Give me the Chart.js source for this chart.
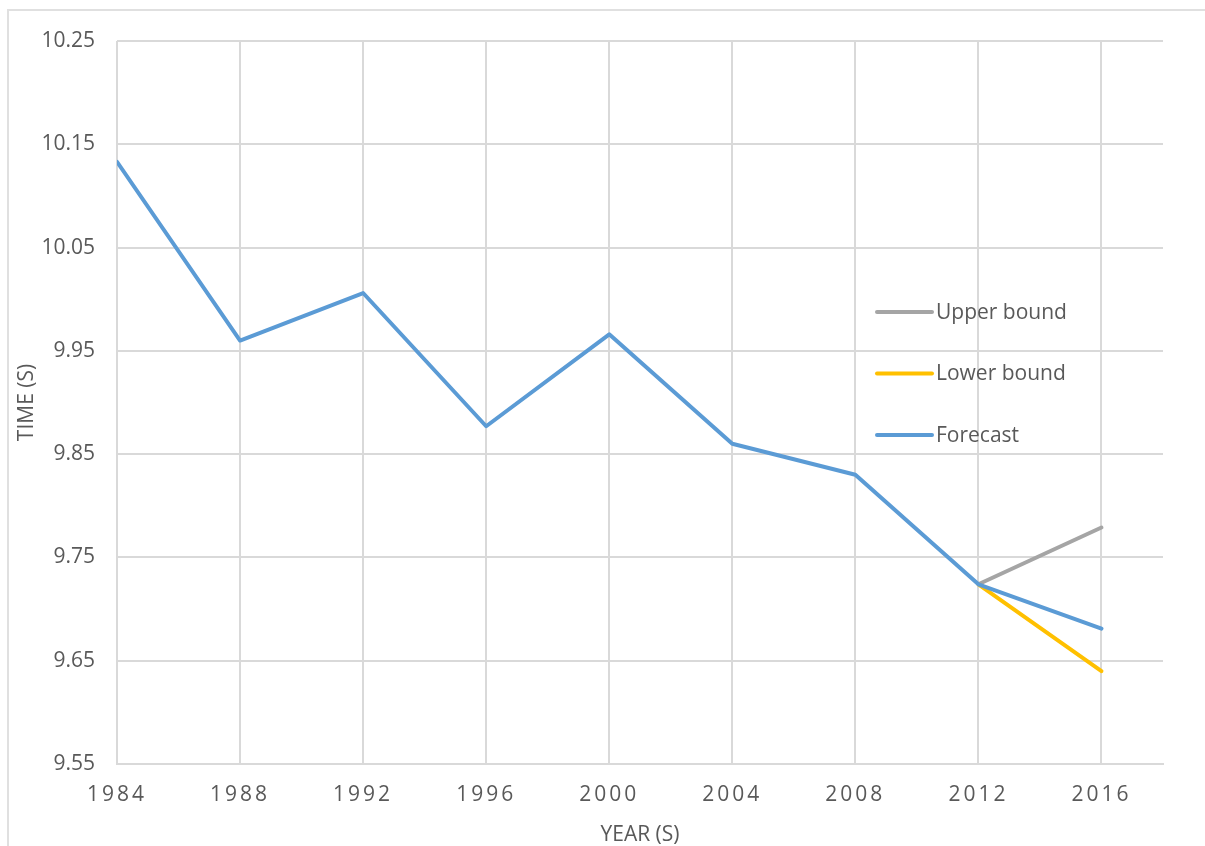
<!DOCTYPE html>
<html>
<head>
<meta charset="utf-8">
<script src="https://cdn.jsdelivr.net/npm/chart.js@4"></script>
<style>
  body { margin: 0; background: #fff; }
  #wrap { position: relative; width: 1205px; height: 846px; overflow: hidden; }
  #frame { position: absolute; left: 7px; top: 9px; width: 1300px; height: 900px; border-left: 2px solid #e0e0e0; border-top: 2px solid #e0e0e0; }
  #chart { position: absolute; left: 0; top: 0; }
</style>
</head>
<body>
<div id="wrap">
  <div id="frame"></div>
  <canvas id="chart" width="1205" height="846"></canvas>
</div>
<script>
const years = [1984, 1988, 1992, 1996, 2000, 2004, 2008, 2012, 2016];
const forecast = [10.133, 9.960, 10.006, 9.877, 9.966, 9.860, 9.830, 9.724, 9.681];
const upperBound = [null, null, null, null, null, null, null, 9.724, 9.779];
const lowerBound = [null, null, null, null, null, null, null, 9.724, 9.640];

const textColor = '#595959';
const gridColor = '#d9d9d9';
const fontFamily = '"Open Sans", "Liberation Sans", sans-serif';

const toPoints = (vals) => years.map((yr, i) => ({ x: yr, y: vals[i] }));

// x tick labels in the reference are letter-spaced
const spacedTicks = {
    id: 'spacedTicks',
    beforeDraw(chart) {
        const xs = chart.scales.x;
        if (xs && !xs._spaced) {
            const orig = xs.drawLabels;
            xs.drawLabels = function (area) {
                this.ctx.save();
                this.ctx.letterSpacing = '3px';
                orig.call(this, area);
                this.ctx.restore();
            };
            xs._spaced = true;
        }
    }
};

// legend sits inside the plot area, stacked vertically
const innerLegend = {
    id: 'innerLegend',
    afterDatasetsDraw(chart, args, opts) {
        const ctx = chart.ctx;
        ctx.save();
        ctx.font = '21px ' + fontFamily;
        ctx.textBaseline = 'middle';
        ctx.fillStyle = textColor;
        chart.data.datasets.forEach((ds, i) => {
            const y = opts.top + i * opts.gap;
            ctx.strokeStyle = ds.borderColor;
            ctx.lineWidth = 4;
            ctx.lineCap = 'round';
            ctx.beginPath();
            ctx.moveTo(opts.left, y);
            ctx.lineTo(opts.left + 55, y);
            ctx.stroke();
            ctx.fillText(ds.label, opts.left + 59, y + 1);
        });
        ctx.restore();
    }
};

const lineStyle = { borderWidth: 4, pointRadius: 0, tension: 0, borderCapStyle: 'round', borderJoinStyle: 'round', fill: false };

new Chart(document.getElementById('chart'), {
    type: 'line',
    data: {
        datasets: [
            { label: 'Upper bound', data: toPoints(upperBound), borderColor: '#a5a5a5', order: 2, ...lineStyle },
            { label: 'Lower bound', data: toPoints(lowerBound), borderColor: '#ffc000', order: 1, ...lineStyle },
            { label: 'Forecast', data: toPoints(forecast), borderColor: '#5b9bd5', order: 0, ...lineStyle }
        ]
    },
    options: {
        responsive: false,
        animation: false,
        layout: { padding: { left: 0, top: 41, right: 42, bottom: 0 } },
        plugins: {
            legend: { display: false },
            tooltip: { enabled: false },
            innerLegend: { left: 877, top: 312, gap: 61.5 }
        },
        scales: {
            x: {
                type: 'linear',
                min: 1984,
                max: 2018,
                afterBuildTicks: (scale) => {
                    scale.ticks = years.map(v => ({ value: v }));
                },
                afterFit: (scale) => { scale.height = 82; },
                grid: { color: gridColor, lineWidth: 2, drawTicks: false },
                border: { display: true, color: gridColor, width: 2 },
                ticks: {
                    color: textColor,
                    padding: 18,
                    maxRotation: 0,
                    font: { family: fontFamily, size: 21 },
                    callback: (v) => String(v)
                },
                title: {
                    display: true,
                    text: 'YEAR (S)',
                    color: textColor,
                    padding: { top: 0, bottom: 0 },
                    font: { family: fontFamily, size: 21, lineHeight: 1.05 }
                }
            },
            y: {
                min: 9.55,
                max: 10.25,
                ticks: {
                    stepSize: 0.1,
                    color: textColor,
                    padding: 22,
                    font: { family: fontFamily, size: 21 },
                    callback: (v) => v.toFixed(2)
                },
                afterFit: (scale) => { scale.width = 117; },
                grid: { color: gridColor, lineWidth: 2, drawTicks: false },
                border: { display: false },
                title: {
                    display: true,
                    text: 'TIME (S)',
                    color: textColor,
                    padding: { top: 15, bottom: 0 },
                    font: { family: fontFamily, size: 21, lineHeight: 1.15 }
                }
            }
        }
    },
    plugins: [spacedTicks, innerLegend]
});
</script>
</body>
</html>
